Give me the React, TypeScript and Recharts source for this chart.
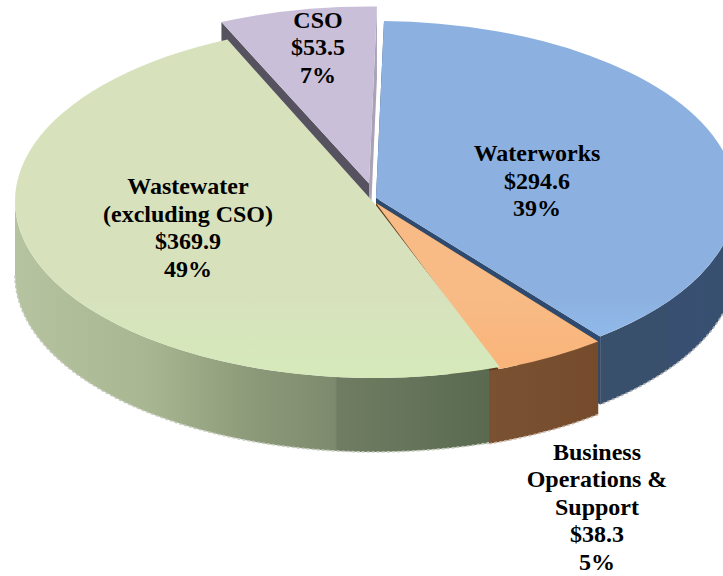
import React from 'react';
import { PieChart, Pie, Cell } from 'recharts';

const categories = ['CSO', 'Waterworks', 'Business Operations & Support', 'Wastewater (excluding CSO)'];
const amounts = [53.5, 294.6, 38.3, 369.9];
const percentLabels = ['7%', '39%', '5%', '49%'];
const amountLabels = ['$53.5', '$294.6', '$38.3', '$369.9'];
const nameLines = [['CSO'], ['Waterworks'], ['Business', 'Operations &', 'Support'], ['Wastewater', '(excluding CSO)']];

const chartData = categories.map((name, i) => ({
  name,
  value: amounts[i],
  lines: [...nameLines[i], amountLabels[i], percentLabels[i]],
}));

const W = 723;
const H = 576;
const CX = 375;
const CY = 201;
const R = 360;
const RY = 177;
const START = 114.2;
const SHEEN_Y = 297;

type Look = {
  dx: number;
  dy: number;
  apex: [number, number];
  depth: number;
  top: string;
  sheen: string;
  faces: [string, string];
  wall: [number, string][];
  trim: [number, number];
  edge: string;
  label: [number, number];
};
const looks: Record<string, Look> = {
  CSO: {
    dx: -6, dy: -17.5, apex: [0, 0], depth: 72, top: '#c9bfd9', sheen: '#c9bfd9',
    faces: ['#57525f', '#aaa3b6'], wall: [[0, '#57525f'], [1, '#57525f']], trim: [0, 0], edge: 'none',
    label: [318, 27.5],
  },
  Waterworks: {
    dx: 1, dy: -3, apex: [0, 0], depth: 68, top: '#8cb1e0', sheen: '#93c0f1',
    faces: ['#2f4a6f', '#2f4a6f'],
    wall: [[0, '#39506c'], [0.5, '#39506c'], [0.51, '#394f72'], [1, '#36506f']], trim: [0, 0], edge: '#a9adb4',
    label: [537, 161],
  },
  'Business Operations & Support': {
    dx: -1, dy: 2, apex: [2, 0], depth: 73, top: '#f8bb85', sheen: '#f9b47a',
    faces: ['#5e3c1e', '#5e3c1e'],
    wall: [[0, '#7a5232'], [1, '#754b2c']], trim: [0, 2], edge: '#c9b3a3',
    label: [597, 459.5],
  },
  'Wastewater (excluding CSO)': {
    dx: 0, dy: 0, apex: [0, 3], depth: 74, top: '#d7e2bd', sheen: '#d5e9bb',
    faces: ['none', 'none'],
    wall: [[0, '#b6c3a0'], [0.28, '#a8b691'], [0.49, '#8e9b7a'], [0.675, '#7d8a6d'], [0.68, '#707d63'], [1, '#596a50']],
    trim: [1.8, 0], edge: '#c6cbbd',
    label: [188, 194],
  },
};
const LINE_HEIGHT = 27.6;

const pt = (cx: number, cy: number, thetaDeg: number) => {
  const t = (thetaDeg * Math.PI) / 180;
  return [cx + R * Math.sin(t), cy - RY * Math.cos(t)];
};
const arc = (cx: number, cy: number, a: number, b: number) => {
  const p = pt(cx, cy, b);
  const large = Math.abs(b - a) > 180 ? 1 : 0;
  const sweep = b > a ? 1 : 0;
  return `A ${R} ${RY} 0 ${large} ${sweep} ${p[0]} ${p[1]}`;
};

const SliceShape = (props: any) => {
  const name = props.name ?? props.payload?.name;
  const look = looks[name];
  const idx = categories.indexOf(name);
  const cx = props.cx + look.dx;
  const cy = props.cy + look.dy;
  const ax = cx + look.apex[0];
  const ay = cy + look.apex[1];
  const t1 = 90 - props.startAngle;
  const t2 = 90 - props.endAngle;
  const p1 = pt(cx, cy, t1);
  const p2 = pt(cx, cy, t2);
  const topPath = `M ${ax} ${ay} L ${p1[0]} ${p1[1]} ${arc(cx, cy, t1, t2)} Z`;
  const face = (p: number[]) =>
    `M ${ax} ${ay} L ${p[0]} ${p[1]} L ${p[0]} ${p[1] + look.depth} L ${ax} ${ay + look.depth} Z`;
  const w1 = Math.max(t1, 90) + look.trim[0];
  const w2 = Math.min(t2, 270) + look.trim[1];
  const hasWall = w2 > w1 && t1 < 270 && t2 > 90;
  let wall = '';
  let bottom = '';
  let xs = [0, W];
  if (hasWall) {
    const a = pt(cx, cy, w1);
    const b = pt(cx, cy, w2);
    const bd = pt(cx, cy + look.depth, w2);
    const ad = pt(cx, cy + look.depth, w1);
    wall = `M ${a[0]} ${a[1]} ${arc(cx, cy, w1, w2)} L ${bd[0]} ${bd[1]} ${arc(cx, cy + look.depth, w2, w1)} Z`;
    bottom = `M ${ad[0]} ${ad[1]} ${arc(cx, cy + look.depth, w1, w2)}`;
    xs = [a[0], b[0]];
  }
  return (
    <g>
      <defs>
        <linearGradient id={`wall-${idx}`} gradientUnits="userSpaceOnUse" x1={Math.min(...xs)} x2={Math.max(...xs)} y1={0} y2={0}>
          {look.wall.map(([o, c]) => (
            <stop key={o} offset={o} stopColor={c} />
          ))}
        </linearGradient>
        <linearGradient id={`top-${idx}`} gradientUnits="userSpaceOnUse" x1={0} x2={0} y1={SHEEN_Y} y2={SHEEN_Y + 70}>
          <stop offset="0" stopColor={look.top} />
          <stop offset="1" stopColor={look.sheen} />
        </linearGradient>
      </defs>
      <path d={face(p1)} fill={look.faces[0]} />
      <path d={face(p2)} fill={look.faces[1]} />
      {hasWall && <path d={wall} fill={`url(#wall-${idx})`} />}
      {hasWall && <path d={bottom} fill="none" stroke={look.edge} strokeWidth={1.6} strokeDasharray="3 2" />}
      <path d={topPath} fill={`url(#top-${idx})`} />
    </g>
  );
};

const SliceLabel = (props: any) => {
  const entry = props.payload ?? props;
  const look = looks[entry.name ?? props.name];
  const lines: string[] = entry.lines ?? [];
  return (
    <text textAnchor="middle" fontFamily="'Liberation Serif', serif" fontWeight="bold" fontSize={24} fill="#000">
      {lines.map((line, i) => (
        <tspan key={i} x={look.label[0]} y={look.label[1] + i * LINE_HEIGHT}>
          {line}
        </tspan>
      ))}
    </text>
  );
};

export default function App() {
  return (
    <div style={{ position: 'absolute', left: 0, top: 0, width: W, height: H, overflow: 'hidden', background: '#fff' }}>
      <PieChart width={W} height={H} margin={{ top: 0, right: 0, bottom: 0, left: 0 }}>
        <Pie
          data={chartData}
          dataKey="value"
          nameKey="name"
          cx={CX}
          cy={CY}
          innerRadius={0}
          outerRadius={R}
          startAngle={START}
          endAngle={START - 360}
          stroke="none"
          labelLine={false}
          label={SliceLabel}
          shape={SliceShape}
          isAnimationActive={false}
        >
          {categories.map((c) => (
            <Cell key={c} fill={looks[c].top} />
          ))}
        </Pie>
      </PieChart>
    </div>
  );
}
